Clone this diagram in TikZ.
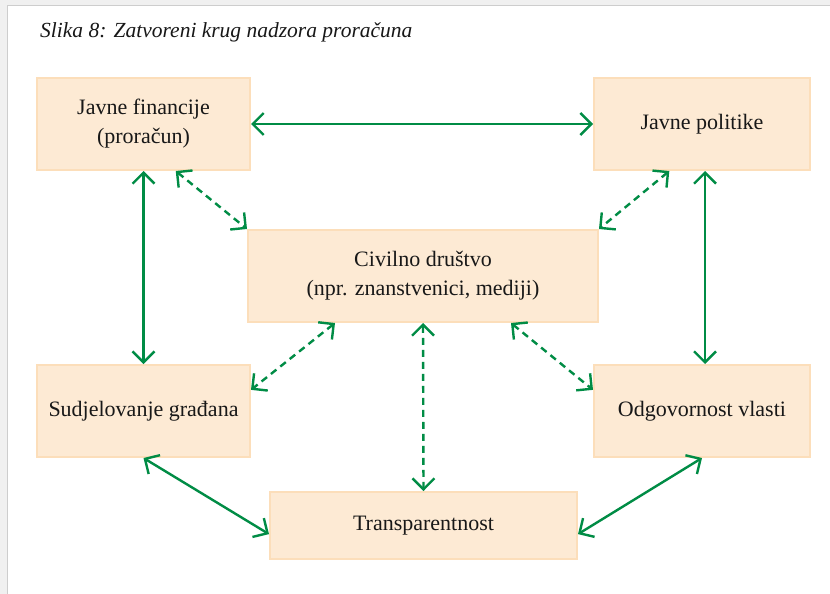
\documentclass[tikz,border=0pt]{standalone}
\usepackage{fontspec}
\setmainfont{Liberation Serif}
\usetikzlibrary{arrows.meta, positioning, calc}
\definecolor{boxfill}{RGB}{253,234,212}
\definecolor{boxline}{RGB}{252,222,186}
\definecolor{linkgreen}{RGB}{0,140,69}
\definecolor{framegray}{RGB}{205,205,205}
\definecolor{textblack}{RGB}{24,24,24}

\tikzset{
    topic/.style={draw=boxline, line width=2pt, fill=boxfill, text=textblack,
        align=center, inner sep=0pt, font=\fontsize{22}{29}\selectfont},
    link/.style={draw=linkgreen, line width=2.4pt,
        {Straight Barb[length=11pt,width=22pt]}-{Straight Barb[length=11pt,width=22pt]}},
    softlink/.style={link, dash pattern=on 7pt off 5pt}
}

\begin{document}
\begin{tikzpicture}[x=1pt, y=-1pt]
    \useasboundingbox (0,0) rectangle (830,594);

    % Page frame
    \fill[framegray!30] (0,0) rectangle (830,594);
    \filldraw[fill=white, draw=framegray, line width=1pt] (7,6) rectangle (850,620);

    % Caption
    \node[anchor=base west, inner sep=0pt, text=textblack,
        font=\itshape\fontsize{21.5}{25}\selectfont] (caption) at (40,38)
        {Slika 8: Zatvoreni krug nadzora proračuna};

    % Boxes
    \node[topic, minimum width=213pt, minimum height=92pt] (fin) at (143.5,124) {Javne financije\\(proračun)};
    \node[topic, minimum width=216pt, minimum height=92pt] (pol) at (702,124) {Javne politike};
    \node[topic, minimum width=350pt, minimum height=92pt] (civ) at (423,276) {Civilno društvo\\(npr. znanstvenici, mediji)};
    \node[topic, minimum width=213pt, minimum height=92pt] (sud) at (143.5,411) {Sudjelovanje građana};
    \node[topic, minimum width=216pt, minimum height=92pt] (odg) at (702,411) {Odgovornost vlasti};
    \node[topic, minimum width=307pt, minimum height=67pt] (tra) at (423.5,525.5) {Transparentnost};

    % Solid links
    \draw[link] (fin.east) -- (pol.west);
    \draw[link] (fin.south) -- (sud.north);
    \draw[link] ([xshift=3pt]pol.south) -- ([xshift=3pt]odg.north);
    \draw[link] (sud.south) -- ($(tra.west)!0.25!(tra.south west)$);
    \draw[link] (odg.south) -- ($(tra.east)!0.25!(tra.south east)$);

    % Dashed links to civil society
    \draw[softlink] ($(fin.south)!0.3!(fin.south east)$) -- (civ.north west);
    \draw[softlink] ($(pol.south)!0.3!(pol.south west)$) -- (civ.north east);
    \draw[softlink] ($(civ.south)!0.5!(civ.south west)$) -- ($(sud.east)!0.45!(sud.north east)$);
    \draw[softlink] ($(civ.south)!0.5!(civ.south east)$) -- ($(odg.west)!0.45!(odg.north west)$);
    \draw[softlink] (civ.south) -- (tra.north);
\end{tikzpicture}
\end{document}
